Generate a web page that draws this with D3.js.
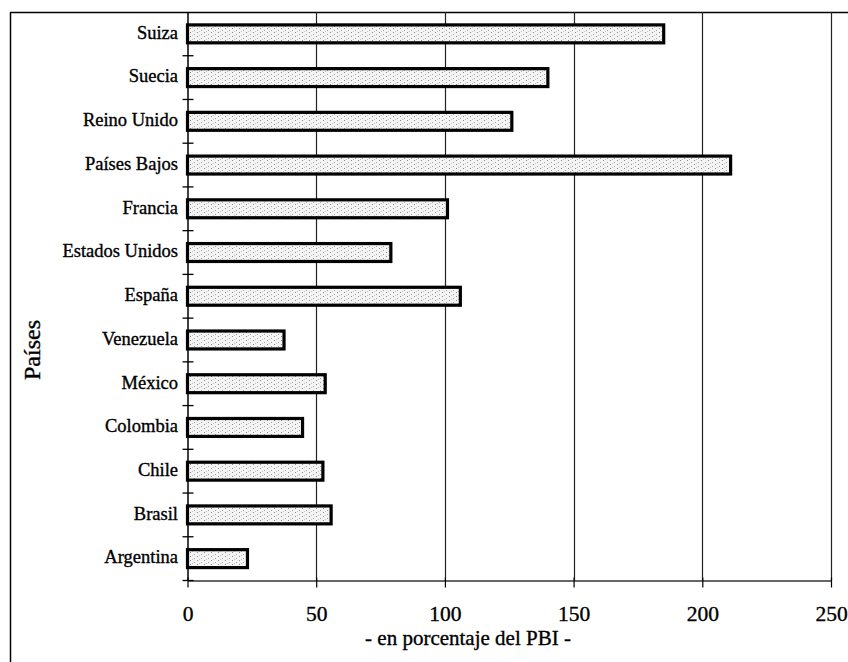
<!DOCTYPE html>
<html>
<head>
<meta charset="utf-8">
<script src="https://cdn.jsdelivr.net/npm/d3@7/dist/d3.min.js"></script>
<style>
  html, body { margin: 0; padding: 0; background: #fff; }
  svg { display: block; }
  text { font-family: "Liberation Serif", "Times New Roman", serif; fill: #000; stroke: #000; stroke-width: 0.35px; }
</style>
</head>
<body>
<svg id="chart" width="848" height="662"></svg>
<script>
const categories = ["Suiza", "Suecia", "Reino Unido", "Países Bajos", "Francia", "Estados Unidos", "España", "Venezuela", "México", "Colombia", "Chile", "Brasil", "Argentina"];
const values = [185, 140, 126, 211, 101, 79, 106, 37.5, 53.5, 44.7, 52.6, 55.8, 23.3];
const xTicks = [0, 50, 100, 150, 200, 250];
const xTitle = "- en porcentaje del PBI -";
const yTitle = "Países";

const svg = d3.select("#chart");
const W = 848, H = 662;
const plot = { left: 187.5, right: 831, top: 12, bottom: 580.5 };

const x = d3.scaleLinear().domain([0, 250]).range([plot.left, plot.right]);
const y = d3.scaleBand().domain(categories).range([plot.top, plot.bottom]).padding(0);

// speckle pattern for bar fill
const defs = svg.append("defs");
const pat = defs.append("pattern").attr("id", "speck").attr("patternUnits", "userSpaceOnUse")
  .attr("width", 7).attr("height", 4);
pat.append("rect").attr("width", 7).attr("height", 4).attr("fill", "#f4f4f4");
pat.append("rect").attr("x", 1).attr("y", 0).attr("width", 1).attr("height", 1).attr("fill", "#8a8a8a");
pat.append("rect").attr("x", 5).attr("y", 2).attr("width", 1).attr("height", 1).attr("fill", "#a0a0a0");
pat.append("rect").attr("x", 3).attr("y", 3).attr("width", 1).attr("height", 1).attr("fill", "#c4c4c4");

// outer frame (left and top)
svg.append("line").attr("x1", 10.5).attr("x2", 10.5).attr("y1", 12).attr("y2", H)
  .attr("stroke", "#000").attr("stroke-width", 1.5);
svg.append("line").attr("x1", 10).attr("x2", W).attr("y1", 12.5).attr("y2", 12.5)
  .attr("stroke", "#000").attr("stroke-width", 1.5);

// vertical gridlines
svg.append("g").selectAll("line").data(xTicks.filter(d => d > 0)).join("line")
  .attr("x1", d => Math.round(x(d)) + 0.5).attr("x2", d => Math.round(x(d)) + 0.5)
  .attr("y1", plot.top).attr("y2", plot.bottom)
  .attr("stroke", "#222").attr("stroke-width", 1.2);

// x axis
const xAxis = svg.append("g").attr("transform", `translate(0,${plot.bottom})`)
  .call(d3.axisBottom(x).tickValues(xTicks).tickSize(7).tickSizeOuter(0).tickPadding(18));
xAxis.select(".domain").attr("stroke", "#333").attr("stroke-width", 1.5);
xAxis.selectAll(".tick line").attr("stroke", "#000").attr("stroke-width", 1.2).attr("y1", -3);
xAxis.selectAll(".tick text").attr("font-size", 21.5).attr("font-family", "Liberation Serif").attr("fill", "#000");

// y axis
const yAxis = svg.append("g").attr("transform", `translate(${plot.left},0)`)
  .call(d3.axisLeft(y).tickSize(0).tickPadding(9.5));
yAxis.select(".domain").attr("stroke", "#000").attr("stroke-width", 1.5);
yAxis.selectAll(".tick text").attr("font-size", 18.5).attr("font-family", "Liberation Serif")
  .attr("fill", "#000").attr("dy", "0.26em");

// y tick marks at band boundaries
const bounds = categories.map(c => y(c)).slice(1).concat([plot.bottom]);
svg.append("g").selectAll("line").data(bounds).join("line")
  .attr("x1", plot.left - 5).attr("x2", plot.left + 6)
  .attr("y1", d => d).attr("y2", d => d)
  .attr("stroke", "#000").attr("stroke-width", 1.3);

// bars
const barH = y.bandwidth() * 0.41;
svg.append("g").selectAll("rect").data(categories).join("rect")
  .attr("x", x(0))
  .attr("y", d => y(d) + y.bandwidth() / 2 - barH / 2)
  .attr("width", (d, i) => x(values[i]) - x(0))
  .attr("height", barH)
  .attr("fill", "url(#speck)")
  .attr("stroke", "#000").attr("stroke-width", 3.2);

// titles
svg.append("text").attr("x", 468).attr("y", 645).attr("text-anchor", "middle")
  .attr("font-size", 21).text(xTitle);
svg.append("text").attr("transform", "translate(40,350) rotate(-90)").attr("text-anchor", "middle")
  .attr("font-size", 24).text(yTitle);
</script>
</body>
</html>
